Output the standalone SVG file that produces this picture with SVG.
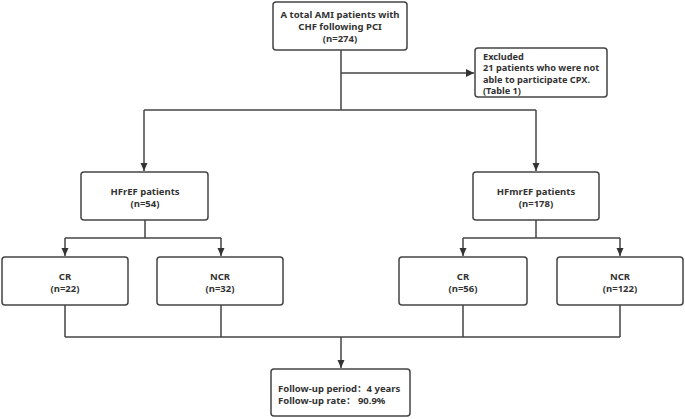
<svg xmlns="http://www.w3.org/2000/svg" width="685" height="419" viewBox="0 0 685 419">
<style>
.box{fill:#fff;stroke:#444;stroke-width:1.5}
.t{font-family:"Noto Sans","Open Sans","Noto Sans CJK SC",sans-serif;font-weight:bold;font-size:9.5px;fill:#333}
.s{font-size:9.2px}
.c{text-anchor:middle}
.ln{fill:none;stroke:#444;stroke-width:1.5}
</style>
<defs>
<marker id="ah" markerWidth="8" markerHeight="10" refX="8" refY="5" orient="auto" markerUnits="userSpaceOnUse" viewBox="0 0 8 10">
<path d="M0,1 L8,5 L0,9 Z" fill="#333"/>
</marker>
<marker id="av" markerWidth="10" markerHeight="8" refX="5" refY="8" orient="0" markerUnits="userSpaceOnUse" viewBox="0 0 10 8">
<path d="M1.5,0 L8.5,0 L5,8 Z" fill="#333"/>
</marker>
</defs>
<rect width="685" height="419" fill="#fff"/>
<g id="connectors">
<path class="ln" d="M341,50 V110"/>
<path class="ln" d="M341,73 H474" marker-end="url(#ah)"/>
<path class="ln" d="M144,110 H536"/>
<path class="ln" d="M144,110 V171" marker-end="url(#av)"/>
<path class="ln" d="M536,110 V171" marker-end="url(#av)"/>
<path class="ln" d="M145,220 V238"/>
<path class="ln" d="M65,238 H221"/>
<path class="ln" d="M65,238 V256" marker-end="url(#av)"/>
<path class="ln" d="M221,238 V256" marker-end="url(#av)"/>
<path class="ln" d="M536,220 V238"/>
<path class="ln" d="M463,238 H620"/>
<path class="ln" d="M463,238 V256" marker-end="url(#av)"/>
<path class="ln" d="M620,238 V256" marker-end="url(#av)"/>
<path class="ln" d="M65,305 V337 M221,305 V337 M463,305 V337 M620,305 V337"/>
<path class="ln" d="M65,337 H620"/>
<path class="ln" d="M341,337 V368" marker-end="url(#av)"/>
</g>
<g id="total">
<rect class="box" x="273" y="2" width="134" height="48" rx="3"/>
<text class="t c" x="340" y="18">A total AMI patients with</text>
<text class="t c" x="340" y="30">CHF following PCI</text>
<text class="t c" x="340" y="42">(n=274)</text>
</g>
<g id="excluded">
<rect class="box" x="475" y="48" width="132" height="49" rx="3"/>
<text class="t s" x="483" y="59.5">Excluded</text>
<text class="t s" x="483" y="71">21 patients who were not</text>
<text class="t s" x="483" y="82.5">able to participate CPX.</text>
<text class="t s" x="483" y="94">(Table 1)</text>
</g>
<g id="hfref">
<rect class="box" x="81" y="172" width="127" height="48" rx="3"/>
<text class="t c" x="145" y="194.5">HFrEF patients</text>
<text class="t c" x="145" y="206.5">(n=54)</text>
</g>
<g id="hfmref">
<rect class="box" x="473" y="172" width="126" height="48" rx="3"/>
<text class="t c" x="536" y="194.5">HFmrEF patients</text>
<text class="t c" x="536" y="206.5">(n=178)</text>
</g>
<g id="cr1">
<rect class="box" x="2" y="257" width="126" height="48" rx="3"/>
<text class="t c" x="65" y="279.5">CR</text>
<text class="t c" x="65" y="291.5">(n=22)</text>
</g>
<g id="ncr1">
<rect class="box" x="157" y="257" width="126" height="48" rx="3"/>
<text class="t c" x="220" y="279.5">NCR</text>
<text class="t c" x="220" y="291.5">(n=32)</text>
</g>
<g id="cr2">
<rect class="box" x="399" y="257" width="128" height="48" rx="3"/>
<text class="t c" x="463" y="279.5">CR</text>
<text class="t c" x="463" y="291.5">(n=56)</text>
</g>
<g id="ncr2">
<rect class="box" x="557" y="257" width="126" height="48" rx="3"/>
<text class="t c" x="620" y="279.5">NCR</text>
<text class="t c" x="620" y="291.5">(n=122)</text>
</g>
<g id="followup">
<rect class="box" x="271" y="369" width="139" height="47" rx="3"/>
<text class="t" x="278" y="391.5">Follow-up period：4 years</text>
<text class="t" x="278" y="403.5">Follow-up rate：  90.9%</text>
</g>
</svg>
